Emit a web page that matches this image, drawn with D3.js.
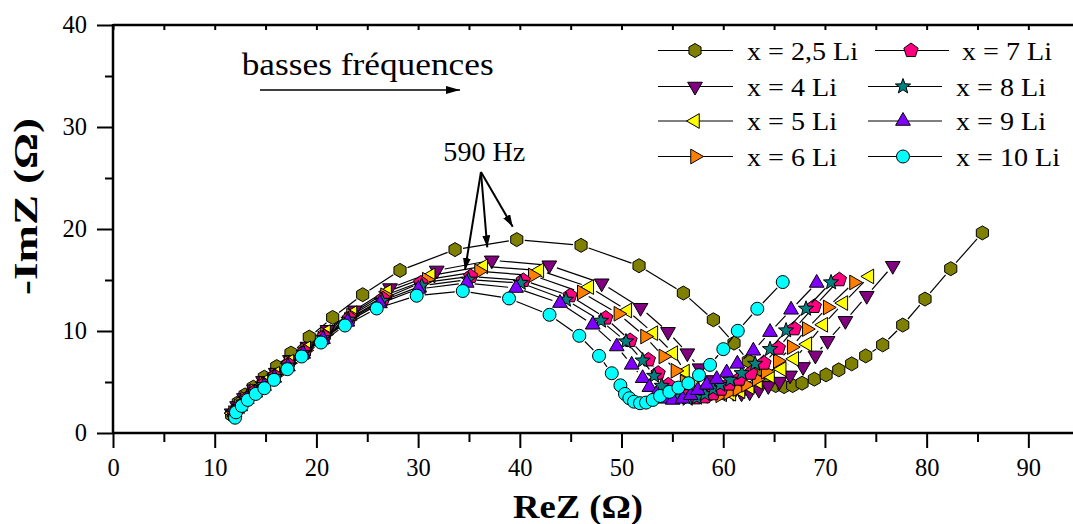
<!DOCTYPE html>
<html><head><meta charset="utf-8">
<script src="https://cdn.jsdelivr.net/npm/d3@7"></script>
<style>body{margin:0;background:#fff}svg{display:block}text{font-family:"Liberation Serif","Times New Roman",serif;fill:#000}</style>
</head><body><svg id="c" width="1073" height="524"></svg>
<script>
// ---- data (ReZ, -ImZ) in ohms ----
const labels = ["x = 2,5 Li","x = 4 Li","x = 5 Li","x = 6 Li","x = 7 Li","x = 8 Li","x = 9 Li","x = 10 Li"];
const colors = ["#808000","#800080","#ffff00","#ff8000","#ff0080","#008080","#8000ff","#00ffff"];
const shapes = ["hexagon","triDown","triLeft","triRight","pentagon","star","triUp","circle"];
const xMajorTicks = [0,10,20,30,40,50,60,70,80,90];
const yMajorTicks = [0,10,20,30,40];

const li25 = [[11.67,1.77],[12.32,2.98],[12.98,3.73],[13.80,4.49],[14.88,5.47],[16.10,6.51],[17.50,7.83],[19.30,9.40],[21.60,11.33],[24.55,13.56],[28.22,15.94],[33.63,17.98],[39.70,18.96],[46.02,18.40],[51.72,16.40],[56.08,13.72],[59.03,11.10],[61.06,8.81],[62.47,7.07],[63.55,5.92],[64.43,5.21],[65.16,4.65],[65.98,4.55],[66.83,4.65],[67.75,4.88],[68.96,5.28],[70.11,5.70],[71.36,6.19],[72.63,6.78],[74.01,7.56],[75.68,8.64],[77.65,10.58],[79.84,13.13],[82.37,16.11],[85.48,19.62]];
const li4 = [[11.67,1.94],[12.2,2.65],[12.88,3.44],[13.86,4.29],[14.75,5.11],[16.0,5.92],[17.4,7.17],[19.11,8.48],[21.09,10.12],[23.75,12.03],[27.24,14.21],[31.83,15.94],[37.24,16.93],[42.90,16.45],[48.05,14.68],[51.87,12.28],[54.57,9.92],[56.47,7.83],[57.67,6.36],[58.6,5.2],[59.4,4.55],[60.2,4.15],[61.0,3.95],[61.8,3.9],[62.6,4.0],[63.5,4.25],[64.43,4.62],[65.52,5.04],[66.57,5.65],[67.85,6.48],[69.06,7.61],[70.26,9.04],[72.01,11.0],[74.11,13.46],[76.67,16.40]];
const li5 = [[11.75,1.95],[12.3,2.6],[12.95,3.4],[13.9,4.2],[14.8,5.0],[15.95,5.8],[17.35,7.0],[19.0,8.3],[20.95,9.9],[23.55,11.75],[26.95,13.85],[31.24,15.45],[36.41,16.34],[41.92,15.94],[46.83,14.31],[50.57,12.01],[53.13,9.79],[55.09,7.83],[56.24,6.02],[57.2,5.0],[58.1,4.35],[59.0,3.95],[59.9,3.8],[60.8,3.85],[61.7,4.1],[62.6,4.5],[63.42,5.01],[64.60,5.60],[65.75,6.26],[66.99,7.27],[68.27,8.71],[69.84,10.61],[71.81,12.74],[74.37,15.35]];
const li6 = [[11.8,1.95],[12.35,2.6],[13.0,3.35],[13.9,4.1],[14.8,4.85],[15.95,5.65],[17.3,6.85],[18.9,8.1],[20.85,9.65],[23.4,11.5],[26.75,13.5],[30.85,15.03],[35.99,15.85],[41.27,15.45],[46.09,13.78],[49.69,11.69],[52.31,9.46],[54.11,7.50],[55.3,6.1],[56.2,5.0],[57.0,4.25],[57.9,3.8],[58.8,3.65],[59.7,3.7],[60.5,3.95],[61.4,4.3],[62.24,4.72],[63.29,5.28],[64.18,6.02],[65.36,7.07],[66.73,8.42],[68.21,10.19],[70.27,12.31],[72.86,14.76]];
const li7 = [[11.85,2.0],[12.4,2.55],[13.05,3.3],[13.95,4.05],[14.8,4.75],[15.9,5.55],[17.25,6.7],[18.85,7.95],[20.75,9.45],[23.25,11.25],[26.55,13.15],[30.26,14.71],[35.17,15.35],[40.34,14.96],[44.94,13.46],[48.45,11.27],[50.84,9.07],[52.64,7.17],[53.60,5.86],[54.6,4.72],[55.5,4.0],[56.4,3.6],[57.3,3.45],[58.2,3.55],[59.0,3.85],[59.8,4.3],[60.6,4.8],[61.58,5.28],[62.70,5.86],[64.01,6.85],[65.42,8.32],[66.99,10.22],[68.96,12.41],[71.42,15.03]];
const li8 = [[11.9,2.0],[12.45,2.55],[13.1,3.3],[13.95,4.0],[14.8,4.7],[15.9,5.5],[17.2,6.6],[18.75,7.85],[20.7,9.3],[23.15,11.1],[26.45,12.95],[30.35,14.44],[34.94,15.03],[40.09,14.71],[44.54,13.06],[47.98,11.0],[50.44,8.97],[52.08,7.10],[53.21,5.60],[53.95,4.62],[54.8,3.9],[55.6,3.5],[56.5,3.35],[57.4,3.45],[58.2,3.8],[59.0,4.3],[59.69,4.72],[60.67,5.21],[61.82,5.86],[63.13,6.78],[64.60,8.22],[66.18,10.05],[68.14,12.18],[70.60,14.76]];
const li9 = [[11.95,2.0],[12.5,2.6],[13.15,3.3],[14.0,3.95],[14.85,4.6],[15.85,5.4],[17.2,6.5],[18.7,7.75],[20.65,9.2],[23.05,10.9],[26.25,12.7],[30.02,14.12],[34.78,14.71],[39.63,14.21],[43.95,12.74],[47.17,10.61],[49.53,8.48],[51.0,6.68],[52.08,5.37],[52.74,4.49],[53.4,3.8],[54.2,3.35],[55.03,3.24],[56.0,3.35],[56.8,3.7],[57.5,4.2],[58.38,4.72],[59.36,5.28],[60.34,5.92],[61.39,6.78],[62.96,8.06],[64.60,9.89],[66.67,12.08],[69.19,14.71]];
const li10 = [[12.0,1.5],[12.09,2.03],[12.66,2.65],[13.25,3.24],[14.03,3.83],[14.88,4.39],[15.83,5.21],[17.14,6.26],[18.55,7.50],[20.45,8.87],[22.81,10.54],[25.93,12.21],[29.86,13.46],[34.39,13.92],[38.94,13.19],[42.92,11.59],[45.85,9.53],[47.79,7.56],[49.04,5.86],[49.89,4.67],[50.34,3.83],[50.77,3.41],[51.23,3.07],[51.82,2.92],[52.41,2.98],[53.07,3.24],[53.79,3.63],[54.70,4.03],[55.59,4.45],[56.57,4.88],[57.62,5.67],[58.70,6.68],[60.01,8.22],[61.43,10.02],[63.35,12.18],[65.85,14.80]];
const seriesData = [li25, li4, li5, li6, li7, li8, li9, li10];

// ---- layout ----
const svg = d3.select("#c");
const x = d3.scaleLinear().domain([0, 95]).range([113, 1079.2]);
const y = d3.scaleLinear().domain([0, 40]).range([433, 25]);

// symbol paths
function poly(n, r, start) {
  const pts = d3.range(n).map(k => [r*Math.cos(start + k*2*Math.PI/n), r*Math.sin(start + k*2*Math.PI/n)]);
  return "M" + pts.map(p => p[0].toFixed(2) + "," + p[1].toFixed(2)).join("L") + "Z";
}
function star(ro, ri) {
  const pts = d3.range(10).map(k => { const r = k%2 ? ri : ro, a = -Math.PI/2 + k*Math.PI/5; return [r*Math.cos(a), r*Math.sin(a)]; });
  return "M" + pts.map(p => p[0].toFixed(2) + "," + p[1].toFixed(2)).join("L") + "Z";
}
const shapePath = {
  hexagon: poly(6, 7, -Math.PI/2),
  triDown: poly(3, 8.5, Math.PI/2),
  triLeft: poly(3, 8.5, Math.PI),
  triRight: poly(3, 8.5, 0),
  triUp: poly(3, 8.5, -Math.PI/2),
  pentagon: poly(5, 7.5, -Math.PI/2),
  star: star(8, 3.3),
  circle: d3.symbol().type(d3.symbolCircle).size(Math.PI*6.5*6.5)()
};

// axes
const axG = svg.append("g");
const tickText = sel => sel.selectAll("text").attr("font-size", 24.5).style("font-family", '"Liberation Serif",serif');
// bottom major
const xb = axG.append("g").attr("transform", `translate(0,${y(0)})`)
  .call(d3.axisBottom(x).tickValues(xMajorTicks).tickSize(15).tickPadding(11).tickFormat(d3.format("d")));
xb.select(".domain").remove();
xb.selectAll("line").attr("stroke-width", 2);
tickText(xb);
const xbm = axG.append("g").attr("transform", `translate(0,${y(0)})`)
  .call(d3.axisBottom(x).tickValues(d3.range(5, 95, 10)).tickSize(9).tickFormat(""));
xbm.select(".domain").remove(); xbm.selectAll("line").attr("stroke-width", 2);
// top ticks (inward)
const xt = axG.append("g").attr("transform", `translate(0,${y(40)})`)
  .call(d3.axisBottom(x).tickValues(d3.range(0, 95, 5)).tickSize(5).tickFormat(""));
xt.select(".domain").remove(); xt.selectAll("line").attr("stroke-width", 2);
// left
const yl = axG.append("g").attr("transform", `translate(${x(0)},0)`)
  .call(d3.axisLeft(y).tickValues(yMajorTicks).tickSize(16).tickPadding(10).tickFormat(d3.format("d")));
yl.select(".domain").remove(); yl.selectAll("line").attr("stroke-width", 2);
tickText(yl);
const ylm = axG.append("g").attr("transform", `translate(${x(0)},0)`)
  .call(d3.axisLeft(y).tickValues([5,15,25,35]).tickSize(8).tickFormat(""));
ylm.select(".domain").remove(); ylm.selectAll("line").attr("stroke-width", 2);
// axis lines
axG.append("line").attr("x1", x(0)).attr("x2", 1073).attr("y1", y(0)).attr("y2", y(0)).attr("stroke", "#000").attr("stroke-width", 2.5);
axG.append("line").attr("x1", x(0)).attr("x2", 1073).attr("y1", y(40)).attr("y2", y(40)).attr("stroke", "#000").attr("stroke-width", 2.5);
axG.append("line").attr("x1", x(0)).attr("x2", x(0)).attr("y1", y(40)-1).attr("y2", y(0)+1).attr("stroke", "#000").attr("stroke-width", 2.5);

// titles
svg.append("text").attr("x", 578).attr("y", 518).attr("text-anchor", "middle")
  .attr("font-size", 34).attr("font-weight", "bold").attr("textLength", 130).attr("lengthAdjust", "spacingAndGlyphs")
  .text("ReZ (Ω)");
svg.append("text").attr("transform", "translate(37,206.5) rotate(-90)").attr("text-anchor", "middle")
  .attr("font-size", 33).attr("font-weight", "bold").attr("textLength", 177).attr("lengthAdjust", "spacingAndGlyphs")
  .text("-ImZ (Ω)");

// series: lines with gaps, then markers
const gap = 8;
const plotG = svg.append("g");
seriesData.forEach((data, si) => {
  const g = plotG.append("g");
  const pts = data.map(d => [x(d[0]), y(d[1])]);
  for (let i = 0; i < pts.length - 1; i++) {
    const [x1, y1] = pts[i], [x2, y2] = pts[i+1];
    const L = Math.hypot(x2-x1, y2-y1);
    if (L <= 2*gap) continue;
    const ux = (x2-x1)/L, uy = (y2-y1)/L;
    g.append("line").attr("x1", x1+ux*gap).attr("y1", y1+uy*gap).attr("x2", x2-ux*gap).attr("y2", y2-uy*gap)
      .attr("stroke", "#000").attr("stroke-width", 1.2);
  }
  g.selectAll("path.m").data(data).enter().append("path").attr("class", "m")
    .attr("transform", d => `translate(${x(d[0])},${y(d[1])})`)
    .attr("d", shapePath[shapes[si]]).attr("fill", colors[si]).attr("stroke", "#000").attr("stroke-width", 1);
});

// legend
const legRows = [50.5, 86.5, 121, 156.5];
const legCols = [
  {l1: 658, l2: 733, m: 695, t: 747},
  {l1: 868, l2: 942, m: 903, t: 956}
];
labels.forEach((lab, i) => {
  const col = i < 4 ? 0 : 1, row = i % 4;
  const c = Object.assign({}, legCols[col]);
  if (col === 1 && row === 0) { c.l1 += 7; c.l2 += 7; c.m += 8; c.t += 6; }
  const yy = legRows[row];
  const g = svg.append("g");
  g.append("line").attr("x1", c.l1).attr("x2", c.l2).attr("y1", yy).attr("y2", yy).attr("stroke", "#000").attr("stroke-width", 1.2);
  g.append("path").attr("transform", `translate(${c.m},${yy})`).attr("d", shapePath[shapes[i]])
    .attr("fill", colors[i]).attr("stroke", "#000").attr("stroke-width", 1);
  const t = g.append("text").attr("x", c.t).attr("y", yy + 9).attr("font-size", 26).text(lab);
  const w = t.node().getComputedTextLength();
  t.attr("textLength", w * 1.08).attr("lengthAdjust", "spacingAndGlyphs");
});

// annotations
const defs = svg.append("defs");
defs.append("marker").attr("id", "ah").attr("viewBox", "0 0 12 8").attr("refX", 12).attr("refY", 4)
  .attr("markerWidth", 12).attr("markerHeight", 8).attr("markerUnits", "userSpaceOnUse").attr("orient", "auto")
  .append("path").attr("d", "M0,0L12,4L0,8Z").attr("fill", "#000");
defs.append("marker").attr("id", "ah2").attr("viewBox", "0 0 14 8").attr("refX", 14).attr("refY", 4)
  .attr("markerWidth", 14).attr("markerHeight", 8).attr("markerUnits", "userSpaceOnUse").attr("orient", "auto")
  .append("path").attr("d", "M0,0L14,4L0,8Z").attr("fill", "#000");

svg.append("text").attr("x", x(12.65)).attr("y", y(35.1)).attr("font-size", 31)
  .attr("textLength", 252).attr("lengthAdjust", "spacingAndGlyphs").text("basses fréquences");
svg.append("line").attr("x1", x(14.45)).attr("y1", y(33.63)).attr("x2", x(34.12)).attr("y2", y(33.63))
  .attr("stroke", "#000").attr("stroke-width", 1.6).attr("marker-end", "url(#ah2)");

svg.append("text").attr("x", x(32.48)).attr("y", y(26.67)).attr("font-size", 27)
  .attr("textLength", 82).attr("lengthAdjust", "spacingAndGlyphs").text("590 Hz");
const arrowFrom = [36.18, 25.59];
const arrowTo = [[34.61, 15.98], [36.8, 18.2], [39.3, 20.23]];
arrowTo.forEach(p => {
  svg.append("line").attr("x1", x(arrowFrom[0])).attr("y1", y(arrowFrom[1])).attr("x2", x(p[0])).attr("y2", y(p[1]))
    .attr("stroke", "#000").attr("stroke-width", 2).attr("marker-end", "url(#ah)");
});
</script></body></html>
